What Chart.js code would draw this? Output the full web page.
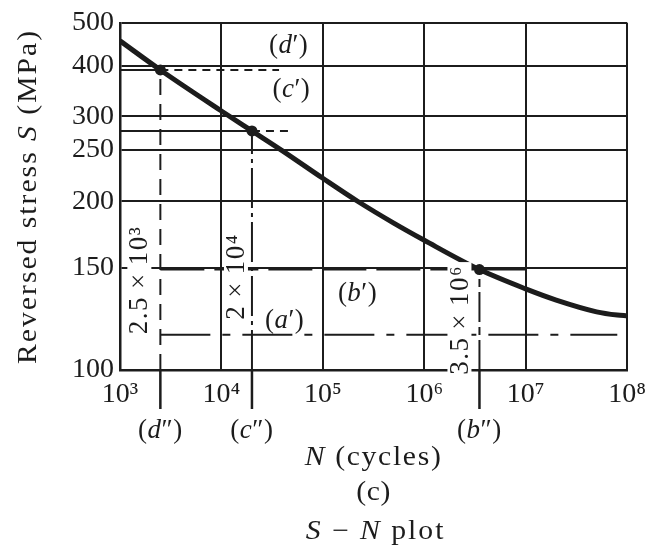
<!DOCTYPE html>
<html>
<head>
<meta charset="utf-8">
<title>S–N plot</title>
<script src="https://cdn.jsdelivr.net/npm/chart.js@4.4.1/dist/chart.umd.min.js"></script>
<style>
  html, body { margin: 0; background: #fff; }
  #wrap { width: 654px; height: 549px; position: relative; }
</style>
</head>
<body>
<div id="wrap"><canvas id="snPlot"></canvas></div>
<script>
// S-N curve: reversed stress amplitude (MPa) against cycles to failure
const curveCycles = [1e3, 2.5e3, 1e4, 2e4, 4e4, 1e5, 2.2e5, 5e5, 1e6, 3.5e6, 1e7, 2e7, 5e7, 8e7, 1e8];
const curveStress = [455, 390, 309, 277, 249, 221, 200, 182, 169, 149, 138, 132, 126, 124.4, 124];

// loading cases
const caseNames = ["d", "c", "b"];
const caseCycles = [2.5e3, 2e4, 3.5e6];
const caseStress = [390, 277, 149];
const caseLifeText = ["2.5\u2009×\u200910³", "2\u2009×\u200910⁴", "3.5\u2009×\u200910⁶"];
const caseGuideEnds = [3.7e4, 4.8e4, 1e7];

// case a sits below the endurance limit
const aStress = 115;
const aGuideRange = [2.5e3, 8e7];

const xTicks = [1e3, 1e4, 1e5, 1e6, 1e7, 1e8];
const yTicks = [100, 150, 200, 250, 300, 400, 500];

const INK = "#1c1c1c";
const SERIF = '"Liberation Serif", "Times New Roman", serif';
const font = (size, italic) => `${italic ? "italic " : ""}${size}px ${SERIF}`;
const SUP = "⁰¹²³⁴⁵⁶⁷⁸⁹";
const sup = (n) => String(n).split("").map((c) => SUP[c]).join("");

// the stress axis is hand-spaced: logarithmic between tick values,
// but every tick sits at its own height on the axis
class StressScale extends Chart.LinearScale {
    static id = "stress";
    static defaults = Chart.LinearScale.defaults;

    buildTicks() {
        return yTicks.map((value) => ({ value }));
    }

    _fraction(value) {
        const stops = this.options.stops;
        let i = 1;
        while (i < yTicks.length - 1 && value > yTicks[i]) i++;
        const t = Math.log(value / yTicks[i - 1]) / Math.log(yTicks[i] / yTicks[i - 1]);
        return stops[i - 1] + t * (stops[i] - stops[i - 1]);
    }

    getPixelForValue(value) {
        if (value === null || value === undefined || isNaN(value)) return NaN;
        return this.bottom - this._fraction(value) * (this.bottom - this.top);
    }

    getValueForPixel(pixel) {
        const stops = this.options.stops;
        const f = (this.bottom - pixel) / (this.bottom - this.top);
        let i = 1;
        while (i < stops.length - 1 && f > stops[i]) i++;
        const t = (f - stops[i - 1]) / (stops[i] - stops[i - 1]);
        return yTicks[i - 1] * Math.pow(yTicks[i] / yTicks[i - 1], t);
    }
}
Chart.register(StressScale);

const seg = (x0, y0, x1, y1) => [{ x: x0, y: y0 }, { x: x1, y: y1 }];

function guide(data, dash, width = 2) {
    return {
        data,
        borderColor: INK,
        borderWidth: width,
        borderDash: dash,
        pointRadius: 0,
        tension: 0,
    };
}

const [dN, cN, bN] = caseCycles;
const [dS, cS, bS] = caseStress;

const datasets = [
    {
        // case points on the curve
        data: caseCycles.map((n, i) => ({ x: n, y: caseStress[i] })),
        showLine: false,
        pointRadius: 5.5,
        pointBackgroundColor: INK,
        pointBorderWidth: 0,
    },
    {
        data: curveCycles.map((n, i) => ({ x: n, y: curveStress[i] })),
        borderColor: INK,
        borderWidth: 5,
        pointRadius: 0,
        cubicInterpolationMode: "monotone",
    },
    // (d') and (c'): solid up to the curve, dashed beyond
    guide(seg(xTicks[0], dS, dN, dS), []),
    guide(seg(dN, dS, caseGuideEnds[0], dS), [8, 6]),
    guide(seg(xTicks[0], cS, cN, cS), []),
    guide(seg(cN, cS, caseGuideEnds[1], cS), [8, 6]),
    // (b') and (a')
    guide(seg(dN, bS, caseGuideEnds[2], bS), [44, 10]),
    guide(seg(aGuideRange[0], aStress, aGuideRange[1], aStress), [50, 12, 8, 12]),
    // lives dropped to the N axis
    guide(seg(dN, yTicks[0], dN, dS), [16, 9]),
    guide(seg(cN, yTicks[0], cN, cS), [40, 5, 4, 5]),
    guide(seg(bN, yTicks[0], bN, bS), [30, 5, 8, 5]),
];

// centred text made of upright and italic runs, optionally widened
function drawRich(ctx, parts, cx, cy, size, sx = 1, spacing = 0) {
    ctx.save();
    ctx.letterSpacing = `${spacing}px`;
    const widths = parts.map(([text, italic]) => {
        ctx.font = font(size, italic);
        return ctx.measureText(text).width;
    });
    let left = -widths.reduce((a, b) => a + b, 0) / 2;
    ctx.translate(cx, cy);
    ctx.scale(sx, 1);
    ctx.textAlign = "left";
    ctx.textBaseline = "middle";
    parts.forEach(([text, italic], i) => {
        ctx.font = font(size, italic);
        ctx.fillText(text, left, 0);
        left += widths[i];
    });
    ctx.restore();
}

const caseLabel = (name, primes) => [["(", false], [name, true], [primes + ")", false]];

const snAnnotations = {
    id: "snAnnotations",
    afterDatasetsDraw(chart) {
        const { ctx, chartArea: area, scales: { x, y } } = chart;
        ctx.save();
        ctx.fillStyle = INK;
        ctx.strokeStyle = INK;

        // lives written up the drop lines, the grid knocked out behind them
        const lifeAt = [143, 145, 122];
        const lifeGap = [21, 16, 20];
        caseCycles.forEach((n, i) => {
            const px = x.getPixelForValue(n) - lifeGap[i];
            const py = y.getPixelForValue(lifeAt[i]);
            ctx.save();
            ctx.translate(px, py);
            ctx.rotate(-Math.PI / 2);
            ctx.letterSpacing = "1.5px";
            ctx.font = font(27, false);
            const w = ctx.measureText(caseLifeText[i]).width;
            ctx.fillStyle = "#fff";
            ctx.fillRect(-w / 2 - 3, -12, w + 6, 24);
            ctx.fillStyle = INK;
            ctx.textAlign = "center";
            ctx.textBaseline = "middle";
            ctx.fillText(caseLifeText[i], 0, 1);
            ctx.restore();
        });

        // drop lines carried below the axis, with their names
        ctx.lineWidth = 2.5;
        caseCycles.forEach((n, i) => {
            const px = x.getPixelForValue(n);
            ctx.beginPath();
            ctx.moveTo(px, area.bottom);
            ctx.lineTo(px, area.bottom + 39);
            ctx.stroke();
            drawRich(ctx, caseLabel(caseNames[i], "″"), px, area.bottom + 61, 27, 1, 0.5);
        });

        // names of the stress levels
        drawRich(ctx, caseLabel("d", "′"), x.getPixelForValue(4.6e4), y.getPixelForValue(dS) - 24, 27, 1, 0.5);
        drawRich(ctx, caseLabel("c", "′"), x.getPixelForValue(4.9e4), y.getPixelForValue(348), 27, 1, 0.5);
        drawRich(ctx, caseLabel("b", "′"), x.getPixelForValue(2.2e5), y.getPixelForValue(bS) + 24, 27, 1, 0.5);
        drawRich(ctx, caseLabel("a", "′"), x.getPixelForValue(4.2e4), y.getPixelForValue(aStress) - 14, 27, 1, 0.5);

        // axis titles and caption
        const midX = (area.left + area.right) / 2;
        drawRich(ctx, [["N", true], [" (cycles)", false]], midX, area.bottom + 88, 27, 1.1, 1.5);
        drawRich(ctx, [["(c)", false]], midX, area.bottom + 123, 27, 1.1, 0.5);
        drawRich(ctx, [["S", true], [" − ", false], ["N", true], [" plot", false]], midX + 2, area.bottom + 162, 27, 1.1, 1.8);

        ctx.translate(29, (area.top + area.bottom) / 2);
        ctx.rotate(-Math.PI / 2);
        drawRich(ctx, [["Reversed stress ", false], ["S", true], [" (MPa)", false]], 0, 0, 27, 1.1, 1.8);
        ctx.restore();
    },
};

new Chart(document.getElementById("snPlot"), {
    type: "line",
    data: { datasets },
    options: {
        responsive: true,
        maintainAspectRatio: false,
        animation: false,
        layout: { padding: { top: 20, right: 23, left: 0, bottom: 0 } },
        plugins: {
            legend: { display: false },
            tooltip: { enabled: false },
        },
        scales: {
            x: {
                type: "logarithmic",
                min: xTicks[0],
                max: xTicks[xTicks.length - 1],
                afterBuildTicks: (scale) => {
                    scale.ticks = xTicks.map((value) => ({ value, major: true }));
                },
                afterFit: (scale) => {
                    scale.height = 179;
                },
                ticks: {
                    autoSkip: false,
                    maxRotation: 0,
                    padding: 8,
                    color: INK,
                    font: { family: SERIF, size: 28 },
                    callback: (v) => "10" + sup(Math.round(Math.log10(v))),
                },
                grid: { color: INK, lineWidth: 2, drawTicks: false },
                border: { color: INK, width: 2.5 },
            },
            y: {
                type: "stress",
                min: yTicks[0],
                max: yTicks[yTicks.length - 1],
                stops: [0, 0.294, 0.486, 0.634, 0.731, 0.877, 1],
                afterFit: (scale) => {
                    scale.width = 120;
                },
                ticks: {
                    autoSkip: false,
                    padding: 6,
                    color: INK,
                    font: { family: SERIF, size: 28 },
                    callback: (v) => String(v),
                },
                grid: { color: INK, lineWidth: 2, drawTicks: false },
                border: { color: INK, width: 2.5 },
            },
        },
    },
    plugins: [snAnnotations],
});
</script>
</body>
</html>
